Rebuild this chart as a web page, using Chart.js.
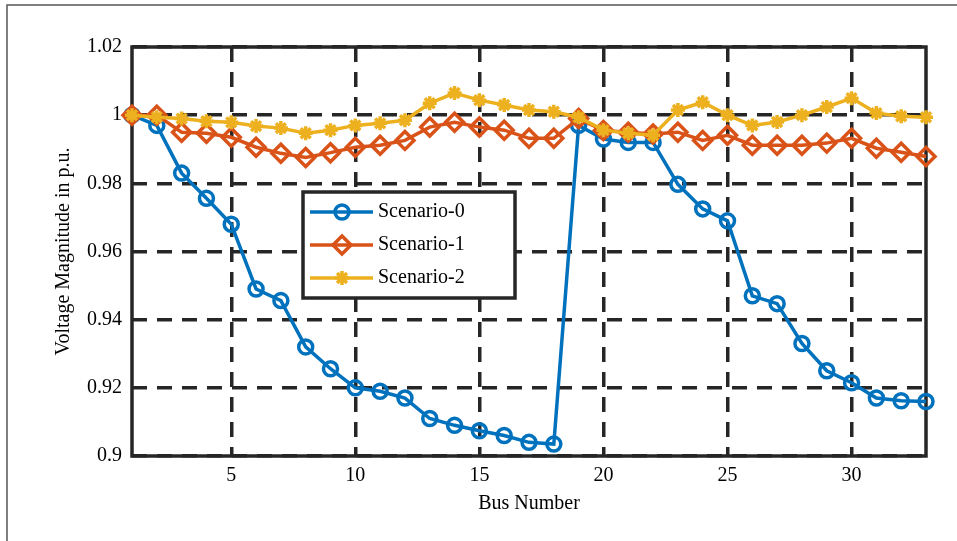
<!DOCTYPE html>
<html>
<head>
<meta charset="utf-8">
<script src="https://cdn.jsdelivr.net/npm/chart.js@4.4.0/dist/chart.umd.min.js"></script>
<style>
  html, body { margin: 0; padding: 0; background: #fff; }
  #wrap { width: 957px; height: 541px; position: relative; }
</style>
</head>
<body>
<div id="wrap"><canvas id="voltChart"></canvas></div>
<script>
// bus numbers and voltage magnitudes (p.u.)
var buses = [1,2,3,4,5,6,7,8,9,10,11,12,13,14,15,16,17,18,19,20,21,22,23,24,25,26,27,28,29,30,31,32,33];
var scenario0 = [1.000,0.997,0.983,0.9756,0.968,0.949,0.9456,0.932,0.9256,0.920,0.919,0.917,0.911,0.909,0.9074,0.906,0.904,0.9035,
                 0.997,0.993,0.992,0.992,0.9797,0.9725,0.969,0.947,0.9447,0.933,0.925,0.9215,0.917,0.9162,0.916];
var scenario1 = [1.000,1.000,0.995,0.9947,0.9935,0.9906,0.9888,0.9876,0.989,0.9906,0.9912,0.9926,0.9965,0.9979,0.9965,0.9956,0.9932,0.9932,
                 0.999,0.9955,0.995,0.9945,0.995,0.9926,0.9941,0.9912,0.9912,0.9912,0.9918,0.9932,0.9903,0.9891,0.9879];
var scenario2 = [1.000,0.9994,0.999,0.9982,0.9979,0.9968,0.9962,0.9947,0.9956,0.997,0.9976,0.9985,1.0035,1.0065,1.0044,1.003,1.0015,1.001,
                 0.9994,0.9956,0.9947,0.9941,1.0015,1.0038,1.000,0.997,0.998,1.000,1.0024,1.005,1.0006,0.9997,0.9994];
var seriesNames = ['Scenario-0', 'Scenario-1', 'Scenario-2'];
var xTicks = [5, 10, 15, 20, 25, 30];
var yTicks = [0.9, 0.92, 0.94, 0.96, 0.98, 1, 1.02];

var FONT = "'Liberation Serif', 'Times New Roman', serif";
var colors = ['#0072BD', '#D95319', '#EDB120'];
var markers = [
  { pointStyle: 'circle', radius: 7 },
  { pointStyle: 'rectRot', radius: 9 },
  { pointStyle: 'star', radius: 7 }
];

function toXY(vals) {
  return vals.map(function (v, i) { return { x: buses[i], y: v }; });
}

function makeSet(i, vals) {
  return {
    label: seriesNames[i],
    data: toXY(vals),
    borderColor: colors[i],
    backgroundColor: colors[i],
    borderWidth: 3.5,
    pointStyle: markers[i].pointStyle,
    pointRadius: markers[i].radius,
    pointHoverRadius: markers[i].radius,
    pointBorderWidth: 3.5,
    pointBorderColor: colors[i],
    pointBackgroundColor: 'rgba(0,0,0,0)',
    tension: 0,
    clip: false,
    order: 3 - i
  };
}

// white page + the thin frame around the figure
var framePlugin = {
  id: 'frame',
  beforeDraw: function (chart) {
    var ctx = chart.ctx;
    ctx.save();
    ctx.fillStyle = '#fff';
    ctx.fillRect(0, 0, chart.width, chart.height);
    ctx.strokeStyle = '#555';
    ctx.lineWidth = 1.5;
    ctx.beginPath();
    ctx.moveTo(7, chart.height);
    ctx.lineTo(7, 5);
    ctx.lineTo(chart.width, 5);
    ctx.stroke();
    ctx.restore();
  }
};

// axes box
var boxPlugin = {
  id: 'axbox',
  beforeDatasetsDraw: function (chart) {
    var a = chart.chartArea, ctx = chart.ctx;
    ctx.save();
    ctx.strokeStyle = '#262626';
    ctx.lineWidth = 3.5;
    ctx.setLineDash([]);
    ctx.strokeRect(a.left, a.top, a.right - a.left, a.bottom - a.top);
    ctx.restore();
  }
};

// legend box inside the plot
var legendPlugin = {
  id: 'boxLegend',
  afterDatasetsDraw: function (chart) {
    var a = chart.chartArea, ctx = chart.ctx;
    var lx = a.left + 171, ly = a.top + 145, lw = 212, lh = 106;
    ctx.save();
    ctx.fillStyle = '#fff';
    ctx.fillRect(lx, ly, lw, lh);
    ctx.strokeStyle = '#262626';
    ctx.lineWidth = 3.5;
    ctx.strokeRect(lx, ly, lw, lh);
    ctx.font = '20px ' + FONT;
    ctx.textBaseline = 'middle';
    for (var i = 0; i < seriesNames.length; i++) {
      var ry = ly + 20 + i * 33;
      ctx.strokeStyle = colors[i];
      ctx.lineWidth = 3.5;
      ctx.beginPath();
      ctx.moveTo(lx + 7, ry);
      ctx.lineTo(lx + 70, ry);
      ctx.stroke();
      ctx.fillStyle = 'rgba(0,0,0,0)';
      Chart.helpers.drawPoint(ctx, {
        pointStyle: markers[i].pointStyle,
        radius: markers[i].radius,
        borderWidth: 3.5,
        rotation: 0
      }, lx + 39, ry);
      ctx.fillStyle = '#000';
      ctx.fillText(seriesNames[i], lx + 75, ry);
    }
    ctx.restore();
  }
};

var ctx = document.getElementById('voltChart').getContext('2d');
new Chart(ctx, {
  type: 'line',
  data: {
    datasets: [makeSet(0, scenario0), makeSet(1, scenario1), makeSet(2, scenario2)]
  },
  options: {
    responsive: true,
    maintainAspectRatio: false,
    animation: false,
    events: [],
    layout: { padding: { top: 47, right: 31, left: 0, bottom: 0 } },
    plugins: {
      legend: { display: false },
      tooltip: { enabled: false }
    },
    scales: {
      x: {
        type: 'linear',
        min: 1,
        max: 33,
        afterBuildTicks: function (s) { s.ticks = xTicks.map(function (v) { return { value: v }; }); },
        afterFit: function (s) { s.height = 85; },
        ticks: { color: '#000', font: { family: FONT, size: 20 }, padding: 8, maxRotation: 0 },
        grid: { color: '#262626', lineWidth: 3.5, drawTicks: false },
        border: { display: false, dash: [15, 10] },
        title: { display: true, text: 'Bus Number', color: '#000', font: { family: FONT, size: 20 }, padding: { top: 0, bottom: 25 } }
      },
      y: {
        min: 0.9,
        max: 1.02,
        afterBuildTicks: function (s) { s.ticks = yTicks.map(function (v) { return { value: v }; }); },
        afterFit: function (s) { s.width = 132; },
        ticks: {
          color: '#000',
          font: { family: FONT, size: 20 },
          padding: 10,
          callback: function (v) { return String(+v.toFixed(2)); }
        },
        grid: { color: '#262626', lineWidth: 3.5, drawTicks: false },
        border: { display: false, dash: [15, 10] },
        title: { display: true, text: 'Voltage Magnitude in p.u.', color: '#000', font: { family: FONT, size: 20 }, padding: { top: 52, bottom: 0 } }
      }
    }
  },
  plugins: [framePlugin, boxPlugin, legendPlugin]
});
</script>
</body>
</html>
